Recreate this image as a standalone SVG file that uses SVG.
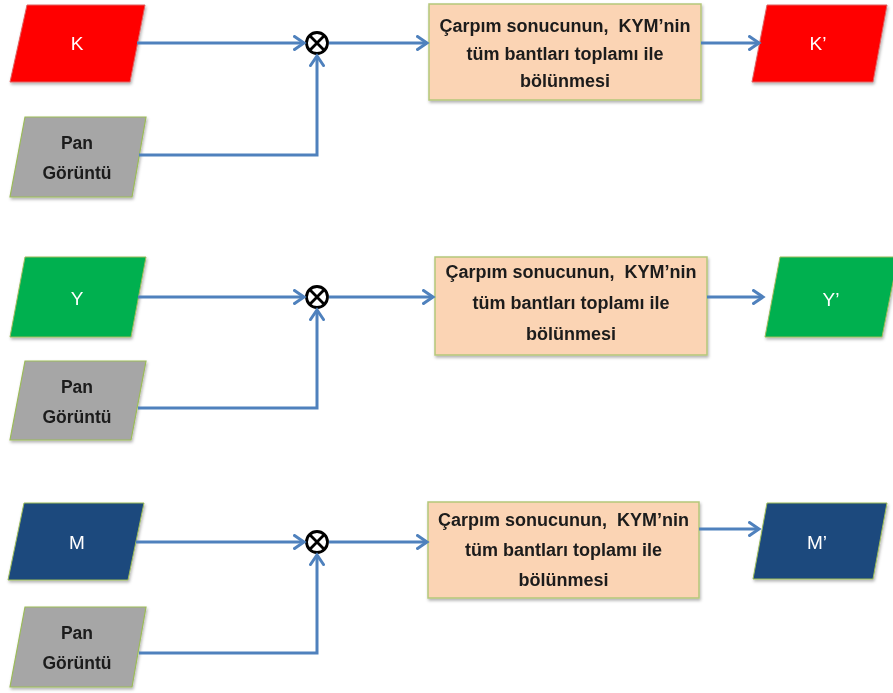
<svg xmlns="http://www.w3.org/2000/svg" width="893" height="693" viewBox="0 0 893 693">
<defs>
<filter id="sh" x="-10%" y="-10%" width="130%" height="130%">
<feDropShadow dx="1" dy="2" stdDeviation="1.5" flood-color="#000" flood-opacity="0.3"/>
</filter>
<marker id="arr" markerWidth="14" markerHeight="16" refX="11" refY="8" orient="auto" markerUnits="userSpaceOnUse">
<path d="M1.5,1.5 L11,8 L1.5,14.5" fill="none" stroke="#4f81bd" stroke-width="3" stroke-linejoin="miter" stroke-linecap="round"/>
</marker>
</defs>
<style>
.red{fill:#ff0000;stroke:#e06060;stroke-width:1}
.grn{fill:#00b050;stroke:#9bbb59;stroke-width:1}
.blu{fill:#1f497d;stroke:#9bbb59;stroke-width:1}
.pan{fill:#a6a6a6;stroke:#9bbb59;stroke-width:1.2}
.box{fill:#fbd4b4;stroke:#b5c77a;stroke-width:1.5}
.lbl{font-family:"Liberation Sans",Arial,sans-serif;font-size:19px;fill:#ffffff;text-anchor:middle}
.pt{font-family:"Liberation Sans",Arial,sans-serif;font-size:17.5px;font-weight:bold;fill:#1a1a1a;text-anchor:middle}
.bt{font-family:"Liberation Sans",Arial,sans-serif;font-size:18px;font-weight:bold;fill:#1a1a1a;text-anchor:middle}
.ln{fill:none;stroke:#4f81bd;stroke-width:3;marker-end:url(#arr)}
.mul circle{fill:#ffffff;stroke:#000;stroke-width:2.8}
.mul path{stroke:#000;stroke-width:2.8}
</style>

<!-- Row 1 -->
<g id="K" filter="url(#sh)"><polygon class="red" points="27,5 145,5 130,82 10,82"/><text class="lbl" x="77" y="50">K</text></g>
<g id="pan1" filter="url(#sh)"><polygon class="pan" points="25,117 146,117 132,197 10,197"/><text class="pt" x="77" y="149">Pan</text><text class="pt" x="77" y="179">Görüntü</text></g>
<g id="mul1" class="mul"><circle cx="317" cy="43" r="10.5"/><path d="M309.6,35.6 L324.4,50.4 M324.4,35.6 L309.6,50.4"/></g>
<g id="box1" filter="url(#sh)"><rect class="box" x="429" y="4" width="272" height="96"/>
<text class="bt" x="565" y="32">Çarpım sonucunun,&#160; KYM’nin</text><text class="bt" x="565" y="60">tüm bantları toplamı ile</text><text class="bt" x="565" y="87">bölünmesi</text></g>
<g id="K2" filter="url(#sh)"><polygon class="red" points="767,5 887,5 873,82 752,82"/><text class="lbl" x="818" y="50">K’</text></g>

<!-- Row 2 -->
<g id="Y" filter="url(#sh)"><polygon class="grn" points="25,257 146,257 131,337 10,337"/><text class="lbl" x="77" y="305">Y</text></g>
<g id="pan2" filter="url(#sh)"><polygon class="pan" points="25,361 146,361 131,440 10,440"/><text class="pt" x="77" y="393">Pan</text><text class="pt" x="77" y="423">Görüntü</text></g>
<g id="mul2" class="mul"><circle cx="317" cy="297" r="10.5"/><path d="M309.6,289.6 L324.4,304.4 M324.4,289.6 L309.6,304.4"/></g>
<g id="box2" filter="url(#sh)"><rect class="box" x="435" y="257" width="272" height="98"/>
<text class="bt" x="571" y="278">Çarpım sonucunun,&#160; KYM’nin</text><text class="bt" x="571" y="309">tüm bantları toplamı ile</text><text class="bt" x="571" y="340">bölünmesi</text></g>
<g id="Y2" filter="url(#sh)"><polygon class="grn" points="780,257 898,257 882,337 765,337"/><text class="lbl" x="831" y="306">Y’</text></g>

<!-- Row 3 -->
<g id="M" filter="url(#sh)"><polygon class="blu" points="24,503 144,503 128,580 8,580"/><text class="lbl" x="77" y="549">M</text></g>
<g id="pan3" filter="url(#sh)"><polygon class="pan" points="25,607 146,607 132,687 10,687"/><text class="pt" x="77" y="639">Pan</text><text class="pt" x="77" y="669">Görüntü</text></g>
<g id="mul3" class="mul"><circle cx="317" cy="542" r="10.5"/><path d="M309.6,534.6 L324.4,549.4 M324.4,534.6 L309.6,549.4"/></g>
<g id="box3" filter="url(#sh)"><rect class="box" x="428" y="502" width="271" height="96"/>
<text class="bt" x="563.5" y="526">Çarpım sonucunun,&#160; KYM’nin</text><text class="bt" x="563.5" y="556">tüm bantları toplamı ile</text><text class="bt" x="563.5" y="586">bölünmesi</text></g>
<g id="M2" filter="url(#sh)"><polygon class="blu" points="767,503 887,503 873,579 753,579"/><text class="lbl" x="817" y="549">M’</text></g>

<g id="connectors">
<path class="ln" d="M137,43 H304"/>
<path class="ln" d="M139,155 H317 V56"/>
<path class="ln" d="M329,43 H427"/>
<path class="ln" d="M701,43 H759"/>

<path class="ln" d="M138,297 H304"/>
<path class="ln" d="M138,408 H317 V310"/>
<path class="ln" d="M329,297 H433"/>
<path class="ln" d="M707,297 H763"/>

<path class="ln" d="M136,542 H304"/>
<path class="ln" d="M139,653 H317 V555"/>
<path class="ln" d="M329,542 H427"/>
<path class="ln" d="M699,529 H759"/>
</g>
</svg>
